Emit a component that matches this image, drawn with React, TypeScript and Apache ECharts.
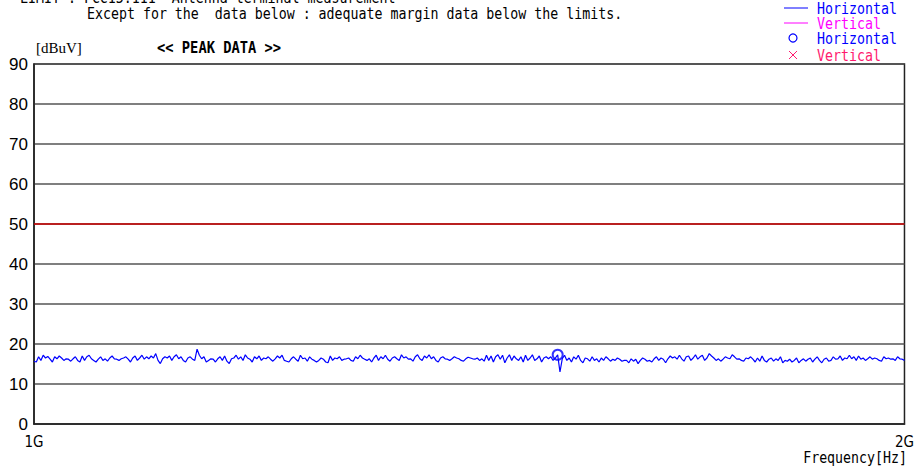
import React, { useEffect, useRef } from "react";
import * as echarts from "echarts";

// Sweep: 1 GHz to 2 GHz, evenly spaced samples
const sweepStartMHz = 1000;
const sweepStopMHz = 2000;

// Measured peak level [dBuV], horizontal antenna, across the sweep
const levelsLow = [
  15.7, 15.5, 16.8, 15.9, 17.2, 16.5, 16.9, 16.2, 15.5, 16.8,
  16.3, 17.0, 16.5, 15.9, 16.3, 16.2, 15.7, 16.3, 16.8, 15.9,
  15.5, 17.0, 15.9, 16.8, 17.2, 16.3, 15.9, 15.5, 16.2, 16.8,
  15.9, 16.3, 15.7, 16.5, 17.0, 16.3, 16.2, 15.9, 16.3, 16.5,
  16.8, 16.2, 15.5, 16.5, 17.0, 15.9, 16.5, 17.2, 16.2, 16.8,
  16.3, 17.0, 16.5, 17.6, 15.9, 15.1, 16.3, 16.8, 16.5, 17.0,
  15.9, 16.8, 17.3, 16.3, 16.8, 15.9, 15.5, 16.5, 16.8, 16.2,
  15.9, 18.7, 17.2, 16.3, 16.8, 15.5, 15.9, 16.3, 16.2, 15.5,
  16.3, 16.8, 15.9, 17.0, 15.7, 15.1, 16.3, 16.5, 17.2, 16.2,
  16.8, 15.9, 17.3, 16.5, 16.2, 15.5, 16.8, 16.3, 17.0, 15.9,
  16.5, 16.3, 16.8, 16.2, 15.7, 16.3, 17.0, 16.5, 17.2, 15.9,
  15.7, 15.5, 16.3, 16.8, 16.2, 15.7, 17.2, 16.3, 16.5, 15.7,
  16.8, 16.2, 15.9, 15.5,
];
const levelsMid = [
  15.9, 16.5, 16.2, 15.5, 15.3, 17.0, 15.9, 16.5, 16.3, 16.8,
  15.9, 16.2, 16.3, 16.5, 15.9, 15.7, 16.8, 16.3, 17.2, 16.5,
  16.2, 15.9, 16.3, 15.5, 16.5, 17.2, 15.9, 16.8, 16.3, 17.2,
  16.2, 15.7, 16.5, 16.8, 16.3, 15.9, 17.3, 16.5, 16.8, 16.2,
  16.3, 15.7, 16.8, 17.3, 16.3, 15.9, 17.0, 16.5, 17.3, 16.3,
  16.8, 15.9, 15.5, 16.5, 16.8, 16.3, 16.2, 15.9, 16.3, 16.8,
  16.5, 16.3, 15.9, 15.7, 16.3, 16.7, 16.5, 16.3, 16.2, 16.5,
  15.9, 16.3, 15.7, 17.2, 15.9, 17.0, 15.5, 16.8, 17.3, 16.2,
  17.2, 15.3, 16.5, 17.3, 15.9, 17.0, 16.3, 15.9, 16.8, 15.5,
  17.2, 15.9, 16.5, 17.3, 15.9, 16.3, 17.0, 15.5, 16.5, 16.8,
  16.3, 16.8, 15.9, 16.5, 17.3, 13.0, 16.3, 17.2, 15.9, 16.5,
  15.5, 16.8, 16.2, 17.2, 15.9, 15.3, 16.5, 16.3, 15.7, 16.8,
  15.9, 16.3, 15.5, 16.5, 15.9, 16.8, 16.3, 15.7, 16.2, 15.9,
  16.5, 16.2, 15.7, 15.9,
];
const levelsHigh = [
  15.9, 15.3, 16.3, 15.7, 16.2, 15.1, 15.9, 16.5, 16.2, 15.7,
  15.9, 15.5, 16.3, 16.8, 15.9, 16.5, 16.2, 15.3, 16.3, 17.0,
  16.5, 16.8, 16.2, 17.2, 16.3, 15.7, 16.8, 17.0, 15.9, 16.5,
  17.3, 16.2, 16.8, 17.2, 15.9, 16.5, 17.6, 17.0, 16.5, 15.9,
  16.3, 15.7, 16.2, 16.8, 16.5, 16.3, 17.3, 16.8, 16.2, 16.3,
  15.9, 15.7, 16.5, 16.3, 16.8, 16.2, 15.5, 16.5, 15.7, 17.0,
  15.9, 15.5, 16.2, 16.5, 15.7, 16.3, 15.9, 16.8, 15.3, 15.9,
  15.7, 16.2, 15.5, 15.9, 16.5, 15.3, 15.9, 16.3, 15.7, 16.2,
  16.5, 15.5, 16.2, 16.8, 15.9, 15.3, 16.2, 16.5, 15.7, 15.9,
  16.8, 16.2, 16.3, 17.0, 15.9, 16.5, 16.3, 17.2, 16.3, 16.8,
  15.9, 17.0, 16.2, 16.5, 15.9, 16.3, 16.8, 16.2, 16.5, 16.3,
  15.9, 15.7, 16.8, 16.3, 16.5, 16.2, 16.3, 15.9, 16.8, 16.3,
  16.2, 15.9,
];

// Limit line (FCC 15.111)
const limitFreqMHz = [1000, 2000];
const limitLevel = [50, 50];

// Peak data point (horizontal)
const peakFreqMHz = [1601.6];
const peakLevel = [17.3];

// Axis ticks
const yTicks = { min: 0, max: 90, interval: 10 };
const freqTickLabels: Record<number, string> = { 1000: "1G", 2000: "2G" };

const MONO = "'DejaVu Sans Mono', monospace";
const BLUE = "#0000ff";
const MAGENTA = "#ff00ff";
const PINK = "#ff1a6e";

function monoText(text: string, x: number, y: number, color: string, bold = false, scaleX = 0.83) {
  return {
    type: "text",
    x,
    y,
    scaleX,
    silent: true,
    style: {
      x: 0,
      y: 0,
      text,
      fill: color,
      font: `${bold ? "bold " : ""}16px ${MONO}`,
      textVerticalAlign: "middle",
    },
  };
}

export default function App() {
  const ref = useRef<HTMLDivElement>(null);

  useEffect(() => {
    if (!ref.current) return;
    const chart = echarts.init(ref.current, undefined, { renderer: "svg" });

    const levels = [...levelsLow, ...levelsMid, ...levelsHigh];
    const step = (sweepStopMHz - sweepStartMHz) / (levels.length - 1);
    const trace = levels.map((v, i) => [sweepStartMHz + i * step, v]);

    chart.setOption({
      animation: false,
      grid: {
        left: 34,
        top: 64,
        width: 873,
        height: 360,
        show: true,
        borderColor: "#222",
        borderWidth: 1.5,
      },
      xAxis: {
        type: "value",
        min: sweepStartMHz,
        max: sweepStopMHz,
        interval: 1000,
        axisLine: { show: true, lineStyle: { color: "#222", width: 1.5 } },
        axisTick: { show: false },
        splitLine: { show: false },
        axisLabel: {
          formatter: (v: number) => freqTickLabels[v] ?? "",
          color: "#000",
          fontFamily: "'DejaVu Sans Condensed', 'DejaVu Sans', sans-serif",
          fontSize: 15,
          margin: 10,
        },
      },
      yAxis: {
        type: "value",
        min: yTicks.min,
        max: yTicks.max,
        interval: yTicks.interval,
        axisLine: { show: true, lineStyle: { color: "#222", width: 1.5 } },
        axisTick: { show: false },
        splitLine: { show: true, lineStyle: { color: "#555", width: 1.5 } },
        axisLabel: {
          color: "#000",
          fontFamily: "'Liberation Sans', Arial, sans-serif",
          fontSize: 17,
          margin: 6,
        },
      },
      series: [
        {
          name: "Limit",
          type: "line",
          data: limitFreqMHz.map((f, i) => [f, limitLevel[i]]),
          showSymbol: false,
          lineStyle: { color: "#cc0000", width: 1.5 },
          silent: true,
        },
        {
          name: "Horizontal",
          type: "line",
          data: trace,
          showSymbol: false,
          lineStyle: { color: BLUE, width: 1.2 },
          silent: true,
        },
        {
          name: "Horizontal peak",
          type: "scatter",
          data: peakFreqMHz.map((f, i) => [f, peakLevel[i]]),
          symbol: "emptyCircle",
          symbolSize: 10,
          itemStyle: { color: BLUE, borderColor: BLUE, borderWidth: 1.2 },
          silent: true,
        },
      ],
      graphic: [
        monoText("LIMIT : FCC15.111  Antenna terminal measurement", 20, -3, "#000"),
        monoText("Except for the  data below : adequate margin data below the limits.", 87, 13, "#000"),
        {
          type: "text",
          x: 36,
          y: 48,
          silent: true,
          style: {
            text: "[dBuV]",
            fill: "#000",
            font: "15px 'Liberation Serif', serif",
            textVerticalAlign: "middle",
          },
        },
        monoText("<< PEAK DATA >>", 157, 48, "#000", true, 0.86),
        {
          type: "text",
          x: 907,
          y: 457,
          silent: true,
          style: {
            text: "Frequency[Hz]",
            fill: "#000",
            font: `16px ${MONO}`,
            textAlign: "right",
            textVerticalAlign: "middle",
          },
          scaleX: 0.83,
        },
        // legend
        { type: "line", silent: true, shape: { x1: 784, y1: 8, x2: 808, y2: 8 }, style: { stroke: BLUE, lineWidth: 1 } },
        monoText("Horizontal", 817, 8, BLUE),
        { type: "line", silent: true, shape: { x1: 784, y1: 23, x2: 808, y2: 23 }, style: { stroke: MAGENTA, lineWidth: 1 } },
        monoText("Vertical", 817, 23, MAGENTA),
        { type: "circle", silent: true, shape: { cx: 793, cy: 38, r: 4 }, style: { stroke: BLUE, fill: "none", lineWidth: 1.2 } },
        monoText("Horizontal", 817, 38, BLUE),
        { type: "line", silent: true, shape: { x1: 789, y1: 51, x2: 797, y2: 59 }, style: { stroke: PINK, lineWidth: 1 } },
        { type: "line", silent: true, shape: { x1: 797, y1: 51, x2: 789, y2: 59 }, style: { stroke: PINK, lineWidth: 1 } },
        monoText("Vertical", 817, 55, PINK),
      ],
    });

    return () => chart.dispose();
  }, []);

  return (
    <div
      ref={ref}
      style={{ position: "absolute", left: 0, top: 0, width: 917, height: 470, background: "#fff" }}
    />
  );
}
